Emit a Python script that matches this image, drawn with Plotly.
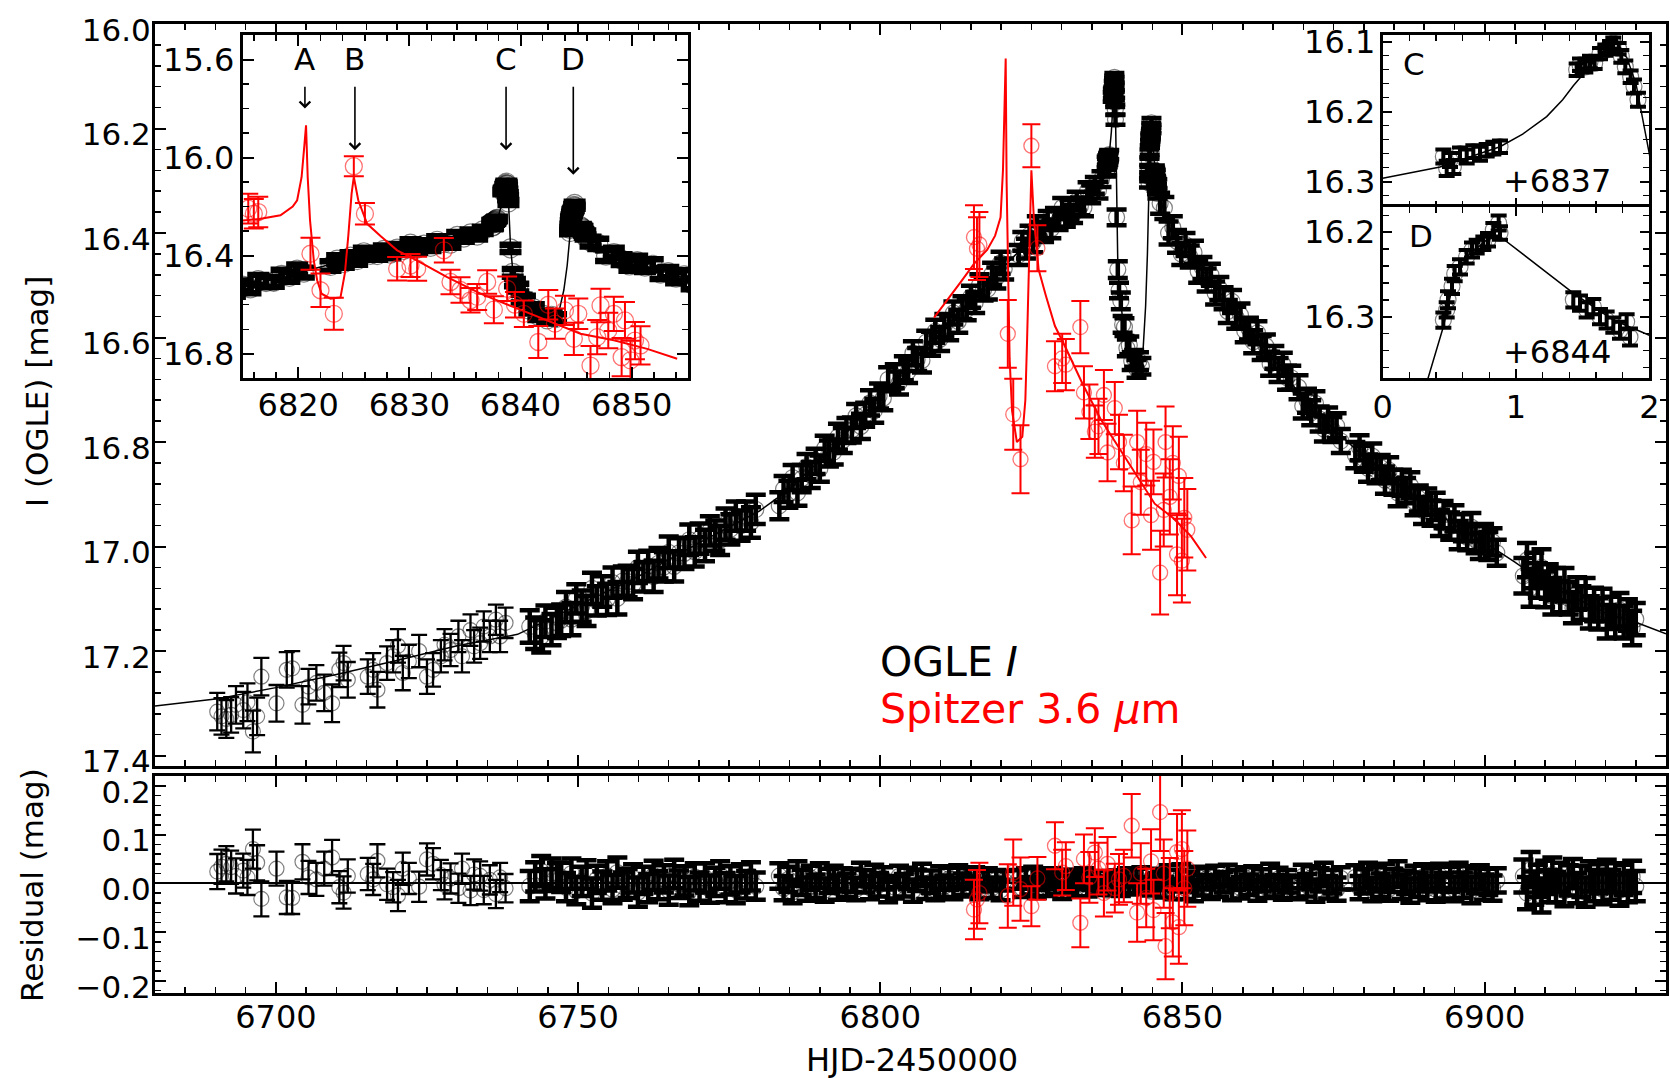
import plotly.graph_objects as go

W, H = 1670, 1078
FONT = "DejaVu Sans"
TICK_SIZE = 32

# ---------------- OGLE I-band photometry (HJD-2450000, mag, error, residual) ----------------
ogle_day_1 = [6690.3, 6691.0, 6691.8, 6692.6, 6693.4, 6694.6, 6695.3, 6696.2, 6696.9, 6697.6]
ogle_mag_1 = [17.316, 17.325, 17.330, 17.322, 17.303, 17.313, 17.298, 17.354, 17.325, 17.249]
ogle_err_1 = [0.036, 0.035, 0.036, 0.034, 0.036, 0.035, 0.036, 0.040, 0.036, 0.036]
ogle_res_1 = [0.024, 0.034, 0.040, 0.033, 0.015, 0.026, 0.012, 0.070, 0.042, -0.032]

ogle_day_2 = [6700.1, 6701.8, 6702.7, 6704.4, 6705.4, 6706.7, 6708.0, 6709.3, 6710.5, 6711.2, 6711.9]
ogle_mag_2 = [17.300, 17.236, 17.233, 17.303, 17.268, 17.261, 17.280, 17.300, 17.236, 17.223, 17.255]
ogle_err_2 = [0.035, 0.034, 0.033, 0.036, 0.034, 0.034, 0.035, 0.036, 0.033, 0.033, 0.034]
ogle_res_2 = [0.030, -0.029, -0.030, 0.044, 0.012, 0.008, 0.030, 0.053, -0.008, -0.019, 0.015]

ogle_day_3 = [6715.2, 6716.1, 6716.8, 6718.4, 6719.4, 6720.2, 6721.0, 6722.0, 6723.7, 6725.0, 6726.0, 6727.3,
              6727.9, 6728.9, 6730.2, 6730.8, 6732.2, 6732.8, 6733.8, 6734.4, 6735.4, 6736.4, 6737.1, 6738.0]
ogle_mag_3 = [17.249, 17.236, 17.274, 17.223, 17.210, 17.190, 17.242, 17.220, 17.200, 17.249, 17.236, 17.210,
              17.188, 17.198, 17.172, 17.210, 17.160, 17.191, 17.185, 17.153, 17.172, 17.140, 17.172, 17.146]
ogle_err_3 = [0.033, 0.032, 0.034, 0.032, 0.031, 0.032, 0.033, 0.032, 0.031, 0.033, 0.032, 0.031,
              0.030, 0.031, 0.030, 0.031, 0.030, 0.031, 0.030, 0.029, 0.030, 0.029, 0.030, 0.029]
ogle_res_3 = [0.019, 0.008, 0.046, -0.002, -0.008, -0.025, 0.030, 0.010, -0.007, 0.049, 0.040, 0.017,
              -0.003, 0.010, -0.010, 0.030, -0.015, 0.018, 0.015, -0.014, 0.007, -0.022, 0.012, -0.010]

ogle_day_4 = [6742.0, 6742.9, 6743.9, 6744.6, 6745.6, 6746.5,
              6747.2, 6748.0, 6748.9, 6749.7, 6750.6, 6751.4, 6752.3, 6753.1, 6754.0, 6754.8,
              6755.7, 6756.5, 6757.4, 6758.2, 6759.1, 6759.9, 6760.8, 6761.6, 6762.5, 6763.3,
              6764.2, 6765.0, 6765.9, 6766.7, 6767.6, 6768.4, 6769.3, 6770.1, 6771.0, 6771.8,
              6772.7, 6773.5, 6774.4, 6775.2, 6776.1, 6776.9, 6777.8, 6778.6, 6779.4]
ogle_mag_4 = [17.153, 17.166, 17.172, 17.143, 17.159, 17.146,
              17.141, 17.116, 17.139, 17.100, 17.114, 17.123, 17.080, 17.104, 17.086, 17.101,
              17.069, 17.099, 17.066, 17.067, 17.072, 17.040, 17.058, 17.037, 17.057, 17.032,
              17.039, 17.011, 17.038, 17.012, 17.013, 16.987, 17.010, 16.985, 16.998, 16.970,
              16.979, 16.988, 16.957, 16.967, 16.942, 16.960, 16.942, 16.954, 16.929]
ogle_err_4 = [0.031, 0.030, 0.031, 0.030, 0.030, 0.029,
              0.030, 0.029, 0.031, 0.028, 0.030, 0.029, 0.030, 0.028, 0.029, 0.030,
              0.029, 0.031, 0.028, 0.030, 0.029, 0.030, 0.028, 0.029, 0.030, 0.029,
              0.028, 0.030, 0.029, 0.028, 0.030, 0.029, 0.028, 0.029, 0.030, 0.028,
              0.029, 0.028, 0.030, 0.029, 0.028, 0.029, 0.028, 0.029, 0.028]
ogle_res_4 = [-0.006, 0.013, 0.025, -0.001, 0.021, 0.013,
              0.012, -0.008, 0.020, -0.015, 0.004, 0.018, -0.020, 0.008, -0.005, 0.015,
              -0.012, 0.022, -0.006, 0.000, 0.010, -0.018, 0.006, -0.010, 0.016, -0.004,
              0.009, -0.014, 0.019, -0.002, 0.005, -0.016, 0.013, -0.007, 0.011, -0.012,
              0.003, 0.017, -0.009, 0.006, -0.013, 0.010, -0.003, 0.014, -0.006]

ogle_day_5 = [6783.3, 6784.0, 6784.8, 6785.5, 6786.3, 6787.0, 6787.8, 6788.5, 6789.3, 6790.0, 6790.8,
              6791.5, 6792.3, 6793.0, 6793.8, 6794.4,
              6795.3, 6796.0, 6796.8, 6797.5, 6798.3, 6799.0, 6799.8, 6800.5, 6801.3]
ogle_mag_5 = [16.922, 16.890, 16.900, 16.868, 16.897, 16.870, 16.847, 16.863, 16.837, 16.851, 16.812,
              16.822, 16.819, 16.790, 16.797, 16.778,
              16.777, 16.750, 16.770, 16.748, 16.725, 16.740, 16.712, 16.716, 16.680]
ogle_err_5 = [0.026, 0.025, 0.026, 0.024, 0.025, 0.026, 0.024, 0.025, 0.024, 0.025, 0.024,
              0.025, 0.024, 0.025, 0.024, 0.024,
              0.024, 0.023, 0.024, 0.023, 0.024, 0.023, 0.024, 0.023, 0.023]
ogle_res_5 = [0.015, -0.010, 0.008, -0.017, 0.020, 0.002, -0.012, 0.011, -0.006, 0.016, -0.014,
              0.005, 0.012, -0.009, 0.007, -0.004,
              0.006, -0.012, 0.018, 0.004, -0.009, 0.015, -0.003, 0.010, -0.016]

ogle_day_6 = [6802.4, 6803.1, 6803.9, 6804.6, 6805.4, 6806.1, 6806.9, 6807.6, 6808.4, 6809.1, 6809.9,
              6810.6, 6811.4, 6812.1, 6812.9, 6813.6,
              6814.3, 6815.0, 6815.7, 6816.4, 6817.1, 6817.8, 6818.5, 6819.2, 6819.9, 6820.5]
ogle_mag_6 = [16.674, 16.687, 16.659, 16.665, 16.630, 16.642, 16.644, 16.609, 16.612, 16.588, 16.603,
              16.577, 16.582, 16.553, 16.569, 16.543,
              16.546, 16.522, 16.533, 16.500, 16.508, 16.507, 16.478, 16.486, 16.457, 16.469]
ogle_err_6 = [0.023, 0.022, 0.023, 0.022, 0.023, 0.022, 0.023, 0.022, 0.023, 0.022, 0.023,
              0.022, 0.023, 0.022, 0.022, 0.022,
              0.021, 0.021, 0.020, 0.021, 0.021, 0.020, 0.021, 0.020, 0.021, 0.020]
ogle_res_6 = [-0.008, 0.014, -0.004, 0.010, -0.015, 0.006, 0.017, -0.010, 0.003, -0.013, 0.012,
              -0.006, 0.009, -0.011, 0.015, -0.002,
              0.010, -0.006, 0.013, -0.012, 0.004, 0.011, -0.009, 0.007, -0.014, 0.005]

ogle_day_7 = [6822.9, 6823.5, 6824.1, 6824.7, 6825.3, 6825.9, 6826.5, 6827.1, 6827.7, 6828.3, 6828.9, 6829.5,
              6830.1, 6830.7, 6831.3, 6831.9, 6832.5, 6833.1, 6833.7, 6834.3, 6834.9, 6835.5, 6836.1, 6836.6]
ogle_mag_7 = [16.442, 16.416, 16.430, 16.404, 16.418, 16.386, 16.397, 16.398, 16.376, 16.392, 16.371, 16.376,
              16.351, 16.371, 16.355, 16.364, 16.339, 16.349, 16.351, 16.319, 16.326, 16.309, 16.318, 16.297]
ogle_err_7 = [0.019, 0.018, 0.019, 0.018, 0.019, 0.018, 0.018, 0.019, 0.018, 0.018, 0.019, 0.018,
              0.018, 0.017, 0.018, 0.017, 0.018, 0.017, 0.017, 0.016, 0.017, 0.016, 0.016, 0.015]
ogle_res_7 = [0.008, -0.010, 0.012, -0.005, 0.015, -0.012, 0.004, 0.009, -0.008, 0.013, -0.003, 0.006,
              -0.014, 0.010, -0.002, 0.011, -0.009, 0.005, 0.014, -0.011, 0.003, -0.007, 0.009, -0.004]

# caustic C (high cadence)
ogle_day_c = [6837.455, 6837.48, 6837.505, 6837.53, 6837.58, 6837.63, 6837.68, 6837.73, 6837.78, 6837.83,
              6837.88, 6838.455, 6838.48, 6838.52, 6838.555, 6838.59, 6838.63, 6838.67, 6838.705, 6838.73,
              6838.77, 6838.79, 6838.82, 6838.86, 6838.885, 6838.915]
ogle_mag_c = [16.264, 16.281, 16.269, 16.279, 16.260, 16.264, 16.257, 16.260, 16.255, 16.252,
              16.250, 16.140, 16.133, 16.136, 16.129, 16.131, 16.117, 16.112, 16.107, 16.102,
              16.110, 16.121, 16.136, 16.150, 16.164, 16.183]
ogle_err_c = [0.010, 0.011, 0.010, 0.010, 0.009, 0.010, 0.009, 0.010, 0.009, 0.009,
              0.009, 0.009, 0.009, 0.008, 0.009, 0.008, 0.008, 0.008, 0.008, 0.008,
              0.008, 0.009, 0.009, 0.009, 0.010, 0.010]
ogle_res_c = [-0.014, 0.004, -0.007, 0.004, -0.012, -0.005, -0.009, -0.002, -0.004, -0.003,
              0.000, -0.005, -0.008, 0.002, 0.001, 0.009, 0.000, 0.001, -0.003, -0.008,
              -0.003, 0.005, 0.013, 0.010, 0.007, 0.008]

# between C and D
ogle_day_t = [6839.1, 6839.3, 6839.5, 6839.8, 6840.1, 6840.4, 6840.8, 6841.2, 6841.6, 6842.0, 6842.4, 6842.8, 6843.2]
ogle_mag_t = [16.370, 16.470, 16.510, 16.530, 16.575, 16.580, 16.620, 16.615, 16.645, 16.640, 16.660, 16.645, 16.655]
ogle_err_t = [0.015, 0.016, 0.015, 0.016, 0.016, 0.017, 0.016, 0.017, 0.017, 0.016, 0.017, 0.017, 0.016]
ogle_res_t = [0.010, 0.010, 0.010, -0.010, 0.010, -0.004, 0.015, -0.006, 0.012, -0.005, 0.013, -0.004, 0.017]

# caustic D (high cadence)
ogle_day_d = [6844.455, 6844.48, 6844.49, 6844.52, 6844.54, 6844.58, 6844.63, 6844.67, 6844.705, 6844.755,
              6844.79, 6844.83, 6844.87, 6844.88, 6845.43, 6845.48, 6845.53, 6845.58, 6845.63, 6845.68,
              6845.73, 6845.78, 6845.83, 6845.855]
ogle_mag_d = [16.304, 16.292, 16.280, 16.264, 16.249, 16.241, 16.229, 16.221, 16.217, 16.213,
              16.209, 16.197, 16.189, 16.201, 16.280, 16.284, 16.292, 16.288, 16.300, 16.304,
              16.310, 16.316, 16.306, 16.324]
ogle_err_d = [0.009, 0.009, 0.010, 0.009, 0.009, 0.009, 0.008, 0.009, 0.008, 0.008,
              0.008, 0.008, 0.009, 0.008, 0.009, 0.009, 0.009, 0.009, 0.009, 0.010,
              0.009, 0.010, 0.009, 0.010]
ogle_res_d = [-0.008, -0.003, -0.008, -0.003, -0.008, -0.004, 0.000, -0.003, -0.002, 0.001,
              0.000, -0.010, -0.016, -0.004, 0.008, 0.007, 0.009, 0.000, 0.007, 0.005,
              0.006, 0.008, -0.005, 0.011]

ogle_day_8 = [6846.3, 6847.0, 6847.7, 6848.4, 6849.1, 6849.8, 6850.5, 6851.2, 6851.9, 6852.6, 6853.3,
              6854.0, 6854.7, 6855.4, 6856.1, 6856.8, 6857.5, 6858.2, 6858.9, 6859.6, 6860.3, 6861.0,
              6861.7, 6862.4, 6863.1, 6863.8, 6864.5, 6865.2, 6865.9, 6866.6, 6867.3, 6868.0]
ogle_mag_8 = [16.343, 16.352, 16.400, 16.389, 16.416, 16.440, 16.422, 16.445, 16.437, 16.473, 16.467,
              16.490, 16.480, 16.515, 16.506, 16.525, 16.550, 16.531, 16.562, 16.557, 16.587, 16.583,
              16.608, 16.591, 16.620, 16.616, 16.650, 16.638, 16.662, 16.651, 16.677, 16.677]
ogle_err_8 = [0.020, 0.021, 0.022, 0.021, 0.022, 0.021, 0.022, 0.021, 0.022, 0.022, 0.021,
              0.022, 0.021, 0.022, 0.022, 0.021, 0.022, 0.022, 0.021, 0.022, 0.022, 0.021,
              0.022, 0.022, 0.023, 0.022, 0.023, 0.022, 0.023, 0.022, 0.023, 0.023]
ogle_res_8 = [0.010, -0.008, 0.015, -0.012, 0.005, 0.018, -0.010, 0.003, -0.015, 0.012, -0.004,
              0.009, -0.011, 0.014, -0.006, 0.002, 0.016, -0.013, 0.007, -0.009, 0.011, -0.003,
              0.013, -0.014, 0.006, -0.008, 0.017, -0.005, 0.009, -0.012, 0.004, -0.007]

ogle_day_9 = [6869.2, 6869.9, 6870.6, 6871.3, 6872.0, 6872.7, 6873.4, 6874.1, 6874.8, 6875.5, 6876.2,
              6878.6, 6879.3, 6880.0, 6880.7, 6881.4, 6882.1, 6882.8, 6883.5, 6884.2, 6884.9, 6885.6,
              6886.3, 6887.0, 6887.7, 6888.4, 6889.1, 6889.8, 6890.5, 6891.2, 6891.9, 6892.6, 6893.2]
ogle_mag_9 = [16.695, 16.731, 16.721, 16.744, 16.726, 16.756, 16.775, 16.757, 16.776, 16.769, 16.798,
              16.825, 16.811, 16.832, 16.850, 16.827, 16.854, 16.849, 16.873, 16.854, 16.877, 16.897,
              16.878, 16.893, 16.883, 16.914, 16.908, 16.931, 16.914, 16.936, 16.923, 16.955, 16.939]
ogle_err_9 = [0.023, 0.024, 0.023, 0.024, 0.023, 0.024, 0.024, 0.023, 0.024, 0.024, 0.023,
              0.025, 0.024, 0.025, 0.026, 0.024, 0.025, 0.024, 0.026, 0.025, 0.024, 0.026,
              0.025, 0.024, 0.025, 0.026, 0.025, 0.026, 0.025, 0.024, 0.026, 0.025, 0.026]
ogle_res_9 = [-0.010, 0.014, -0.004, 0.011, -0.015, 0.007, 0.018, -0.008, 0.003, -0.012, 0.010,
              0.012, -0.009, 0.004, 0.016, -0.013, 0.008, -0.004, 0.014, -0.011, 0.006, 0.019,
              -0.007, 0.002, -0.015, 0.010, -0.003, 0.013, -0.010, 0.007, -0.012, 0.015, -0.005]

ogle_day_10 = [6894.3, 6895.0, 6895.7, 6896.4, 6897.1, 6897.8, 6898.5, 6899.2, 6899.9, 6900.6, 6901.3, 6902.0,
               6906.4, 6907.0, 6907.6, 6908.2, 6908.8, 6909.4, 6910.0, 6910.6, 6911.2]
ogle_mag_10 = [16.961, 16.946, 16.978, 16.964, 16.982, 16.963, 16.987, 16.999, 16.983, 16.999, 16.991, 17.012,
               17.056, 17.026, 17.079, 17.046, 17.065, 17.040, 17.082, 17.067, 17.095]
ogle_err_10 = [0.026, 0.025, 0.027, 0.026, 0.025, 0.027, 0.026, 0.025, 0.026, 0.027, 0.026, 0.025,
               0.034, 0.033, 0.036, 0.034, 0.033, 0.035, 0.034, 0.033, 0.035]
ogle_res_10 = [0.008, -0.012, 0.015, -0.004, 0.010, -0.014, 0.005, 0.012, -0.008, 0.003, -0.010, 0.006,
               0.015, -0.020, 0.028, -0.010, 0.005, -0.025, 0.012, -0.006, 0.018]

ogle_day_11 = [6911.8, 6912.5, 6913.2, 6913.9, 6914.6, 6915.3, 6916.0, 6916.7, 6917.4, 6918.1,
               6918.8, 6919.5, 6920.2, 6920.9, 6921.6, 6922.3, 6923.0, 6923.7, 6924.4, 6925.0]
ogle_mag_11 = [17.072, 17.096, 17.073, 17.099, 17.117, 17.090, 17.108, 17.090, 17.126, 17.111,
               17.129, 17.112, 17.144, 17.127, 17.144, 17.121, 17.145, 17.131, 17.156, 17.139]
ogle_err_11 = [0.031, 0.030, 0.032, 0.031, 0.030, 0.031, 0.032, 0.030, 0.031, 0.032,
               0.030, 0.031, 0.032, 0.031, 0.030, 0.032, 0.031, 0.030, 0.033, 0.031]
ogle_res_11 = [-0.008, 0.012, -0.015, 0.006, 0.020, -0.010, 0.004, -0.018, 0.014, -0.005,
               0.009, -0.012, 0.016, -0.003, 0.011, -0.014, 0.007, -0.009, 0.013, -0.006]

# ---------------- best-fit model light curve (OGLE I) ----------------
model_day = [6680, 6690, 6700, 6710, 6720, 6730, 6740, 6750, 6760, 6770, 6780, 6785, 6790, 6795, 6800,
             6805, 6810, 6815, 6820, 6822.5, 6825, 6830, 6833, 6835, 6836, 6837.0, 6837.43, 6837.88,
             6838.05, 6838.23, 6838.35, 6838.43, 6838.53, 6838.6, 6838.68, 6838.76, 6838.83, 6838.9,
             6838.98, 6839.1, 6839.3, 6839.5, 6839.8, 6840.1, 6840.5, 6841.0, 6842.0, 6843.0, 6843.5,
             6843.9, 6844.2, 6844.34, 6844.455, 6844.53, 6844.63, 6844.78, 6844.88, 6845.43, 6845.73,
             6846.0, 6847.0, 6848.0, 6850, 6855, 6860, 6865, 6870, 6875, 6880, 6885, 6890, 6895, 6900,
             6905, 6910, 6915, 6920, 6925, 6930]
model_mag = [17.305, 17.292, 17.270, 17.245, 17.218, 17.190, 17.168, 17.113, 17.057, 16.993, 16.932, 16.890,
             16.835, 16.775, 16.712, 16.650, 16.590, 16.528, 16.470, 16.440, 16.405, 16.366, 16.344, 16.322,
             16.310, 16.295, 16.279, 16.250, 16.232, 16.207, 16.183, 16.163, 16.140, 16.125, 16.113,
             16.112, 16.122, 16.160, 16.240, 16.360, 16.460, 16.500, 16.540, 16.565, 16.590, 16.615,
             16.645, 16.650, 16.620, 16.540, 16.440, 16.373, 16.312, 16.260, 16.229, 16.209, 16.205,
             16.272, 16.304, 16.322, 16.360, 16.395, 16.425, 16.495, 16.572, 16.640, 16.718, 16.775,
             16.828, 16.872, 16.920, 16.958, 16.992, 17.030, 17.070, 17.098, 17.127, 17.145, 17.167]

# ---------------- Spitzer 3.6 micron ----------------
sp_day = [6815.5, 6816.0, 6816.4, 6821.1, 6822.0, 6823.2, 6825.0, 6826.0, 6828.9, 6830.1, 6830.7, 6833.1,
          6833.7, 6834.6, 6835.5, 6836.1, 6837.0, 6837.6, 6838.8, 6839.5, 6840.3, 6841.6, 6842.5, 6843.1,
          6844.0, 6844.8, 6845.2, 6846.3, 6846.9, 6847.2, 6847.9, 6848.4, 6849.1, 6849.4, 6849.9, 6850.3,
          6850.8]
sp_mag_main = [16.408, 16.430, 16.422, 16.593, 16.747, 16.833, 16.233, 16.429, 16.655, 16.640, 16.652, 16.580,
               16.705, 16.742, 16.780, 16.770, 16.710, 16.820, 16.735, 16.800, 16.840, 16.950, 16.800, 16.877,
               16.823, 16.940, 16.838, 17.050, 16.930, 16.800, 16.905, 16.840, 17.015, 16.865, 17.027, 16.945,
               16.968]
sp_mag_inset = [16.208, 16.229, 16.222, 16.392, 16.541, 16.637, 16.035, 16.229, 16.453, 16.440, 16.453, 16.378,
                16.507, 16.540, 16.582, 16.568, 16.507, 16.620, 16.535, 16.600, 16.637, 16.752, 16.600, 16.677,
                16.623, 16.739, 16.637, 16.848, 16.732, 16.603, 16.705, 16.637, 16.814, 16.664, 16.827, 16.746,
                16.766]
sp_err = [0.061, 0.060, 0.062, 0.065, 0.068, 0.065, 0.041, 0.044, 0.048, 0.047, 0.049, 0.050,
          0.050, 0.052, 0.050, 0.053, 0.048, 0.055, 0.050, 0.052, 0.054, 0.065, 0.060, 0.062,
          0.060, 0.066, 0.062, 0.080, 0.070, 0.068, 0.072, 0.070, 0.078, 0.075, 0.080, 0.076,
          0.078]
sp_res = [-0.054, -0.033, -0.020, -0.026, 0.022, -0.012, -0.047, 0.010, 0.077, 0.022, 0.035, -0.081,
          0.050, 0.012, 0.063, 0.030, -0.020, 0.040, -0.010, 0.008, 0.015, 0.118, -0.060, 0.020,
          -0.030, 0.045, -0.055, 0.146, 0.020, -0.129, -0.020, -0.080, 0.064, -0.090, 0.070, -0.010,
          0.030]

sp_model_day = [6808.9, 6811.0, 6813.3, 6815.5, 6817.7, 6819.0, 6819.9, 6820.3, 6820.55, 6820.75, 6820.9,
                6821.1, 6821.4, 6821.8, 6822.6, 6823.5, 6824.0, 6824.3, 6824.6, 6825.0, 6825.4, 6826.2,
                6827.4, 6828.9, 6830.7, 6833.4, 6836.4, 6839.4, 6842.4, 6845.4, 6848.4, 6851.4, 6853.9]
sp_model_mag = [16.562, 16.530, 16.494, 16.459, 16.432, 16.405, 16.370, 16.280, 16.150, 16.066, 16.300,
                16.460, 16.640, 16.740, 16.800, 16.790, 16.720, 16.600, 16.450, 16.280, 16.370, 16.470,
                16.520, 16.578, 16.620, 16.687, 16.755, 16.810, 16.864, 16.918, 16.945, 16.980, 17.022]

sp_inset_model_day = [6815.0, 6816.5, 6818.4, 6819.5, 6819.9, 6820.3, 6820.55, 6820.7, 6820.85, 6821.06,
                      6821.4, 6821.7, 6822.1, 6822.9, 6823.8, 6824.2, 6824.5, 6824.8, 6825.0, 6825.4,
                      6826.2, 6827.4, 6828.9, 6830.7, 6833.4, 6836.4, 6839.4, 6842.4, 6845.4, 6848.4,
                      6851.4, 6854.1]
sp_inset_model_mag = [16.256, 16.250, 16.235, 16.200, 16.174, 16.080, 15.950, 15.868, 16.080, 16.256,
                      16.420, 16.500, 16.555, 16.575, 16.570, 16.470, 16.320, 16.147, 16.079, 16.174,
                      16.270, 16.320, 16.378, 16.420, 16.487, 16.555, 16.610, 16.664, 16.718, 16.745,
                      16.780, 16.820]


# ---------------- assemble OGLE series ----------------
def collect(groups):
    d, m, e, r = [], [], [], []
    for gd, gm, ge, gr in groups:
        n = min(len(gd), len(gm), len(ge), len(gr))
        d += gd[:n]; m += gm[:n]; e += ge[:n]; r += gr[:n]
    return d, m, e, r


sparse = collect([(ogle_day_1, ogle_mag_1, ogle_err_1, ogle_res_1),
                  (ogle_day_2, ogle_mag_2, ogle_err_2, ogle_res_2),
                  (ogle_day_3, ogle_mag_3, ogle_err_3, ogle_res_3)])
dense = collect([(ogle_day_4, ogle_mag_4, ogle_err_4, ogle_res_4),
                 (ogle_day_5, ogle_mag_5, ogle_err_5, ogle_res_5),
                 (ogle_day_6, ogle_mag_6, ogle_err_6, ogle_res_6),
                 (ogle_day_7, ogle_mag_7, ogle_err_7, ogle_res_7),
                 (ogle_day_t, ogle_mag_t, ogle_err_t, ogle_res_t),
                 (ogle_day_8, ogle_mag_8, ogle_err_8, ogle_res_8),
                 (ogle_day_9, ogle_mag_9, ogle_err_9, ogle_res_9),
                 (ogle_day_10, ogle_mag_10, ogle_err_10, ogle_res_10),
                 (ogle_day_11, ogle_mag_11, ogle_err_11, ogle_res_11)])
peaks = collect([(ogle_day_c, ogle_mag_c, ogle_err_c, ogle_res_c),
                 (ogle_day_d, ogle_mag_d, ogle_err_d, ogle_res_d)])

n_sp = min(len(sp_day), len(sp_mag_main), len(sp_mag_inset), len(sp_err), len(sp_res))
sp_day, sp_mag_main, sp_mag_inset = sp_day[:n_sp], sp_mag_main[:n_sp], sp_mag_inset[:n_sp]
sp_err, sp_res = sp_err[:n_sp], sp_res[:n_sp]

BLACK_MK = "rgba(0,0,0,0.5)"
RED_MK = "rgba(255,0,0,0.55)"
RED = "#ff0000"


def ogle_pts(x, y, e, xa, ya, cap=8, size=15, thick=2.0):
    return go.Scatter(x=x, y=y, mode="markers", xaxis=xa, yaxis=ya, showlegend=False, hoverinfo="skip",
                      marker=dict(symbol="circle-open", size=size, color=BLACK_MK,
                                  line=dict(width=1.2, color=BLACK_MK)),
                      error_y=dict(type="data", array=e, visible=True, color="black", thickness=thick, width=cap))


def sp_pts(x, y, e, xa, ya, cap=9, size=15):
    return go.Scatter(x=x, y=y, mode="markers", xaxis=xa, yaxis=ya, showlegend=False, hoverinfo="skip",
                      marker=dict(symbol="circle-open", size=size, color=RED_MK,
                                  line=dict(width=1.3, color=RED_MK)),
                      error_y=dict(type="data", array=e, visible=True, color=RED, thickness=2, width=cap))


def line(x, y, xa, ya, color, width):
    return go.Scatter(x=x, y=y, mode="lines", xaxis=xa, yaxis=ya, showlegend=False, hoverinfo="skip",
                      line=dict(color=color, width=width))


def shift(days, t0):
    return [d - t0 for d in days]


fig = go.Figure()
# main panel
fig.add_trace(ogle_pts(sparse[0], sparse[1], sparse[2], "x", "y", thick=2.3))
fig.add_trace(ogle_pts(dense[0], dense[1], dense[2], "x", "y", cap=10, size=16, thick=4.5))
fig.add_trace(ogle_pts(peaks[0], peaks[1], peaks[2], "x", "y", cap=10, size=16, thick=4.5))
fig.add_trace(line(model_day, model_mag, "x", "y", "black", 1.5))
fig.add_trace(sp_pts(sp_day, sp_mag_main, sp_err, "x", "y"))
fig.add_trace(line(sp_model_day, sp_model_mag, "x", "y", RED, 2))
# residual panel
fig.add_trace(ogle_pts(sparse[0], sparse[3], sparse[2], "x2", "y2", thick=2.3))
fig.add_trace(ogle_pts(dense[0], dense[3], dense[2], "x2", "y2", cap=10, size=16, thick=4.5))
fig.add_trace(ogle_pts(peaks[0], peaks[3], peaks[2], "x2", "y2", cap=10, size=16, thick=4.5))
fig.add_trace(sp_pts(sp_day, sp_res, sp_err, "x2", "y2"))
# left inset
fig.add_trace(ogle_pts(dense[0], dense[1], dense[2], "x3", "y3", cap=11, size=19, thick=6.5))
fig.add_trace(ogle_pts(peaks[0], peaks[1], peaks[2], "x3", "y3", cap=11, size=19, thick=6.5))
fig.add_trace(line(model_day, model_mag, "x3", "y3", "black", 1.5))
fig.add_trace(sp_pts(sp_day, sp_mag_inset, sp_err, "x3", "y3", cap=10, size=17))
fig.add_trace(line(sp_inset_model_day, sp_inset_model_mag, "x3", "y3", RED, 2))
# insets C / D
fig.add_trace(ogle_pts(shift(peaks[0], 6837), peaks[1], peaks[2], "x4", "y4", cap=8, size=16, thick=4))
fig.add_trace(line(shift(model_day, 6837), model_mag, "x4", "y4", "black", 1.5))
fig.add_trace(ogle_pts(shift(peaks[0], 6844), peaks[1], peaks[2], "x5", "y5", cap=8, size=16, thick=4))
fig.add_trace(line(shift(model_day, 6844), model_mag, "x5", "y5", "black", 1.5))


def axis(minor_dtick=None, **kw):
    d = dict(showline=True, linecolor="black", linewidth=3, mirror="allticks",
             ticks="inside", ticklen=11, tickwidth=2, tickcolor="black",
             showgrid=False, zeroline=False, fixedrange=True, automargin=False,
             tickfont=dict(family=FONT, size=TICK_SIZE, color="black"))
    if minor_dtick is not None:
        d["minor"] = dict(dtick=minor_dtick, ticks="inside", ticklen=6, tickwidth=1.5,
                          tickcolor="black", showgrid=False)
    d.update(kw)
    return d


def PX(p):
    return p / W


def PY(p):
    return 1 - p / H


YFONT = dict(family=FONT, size=31, color="black")
main_x = [PX(155), PX(1666)]
fig.update_layout(
    width=W, height=H, margin=dict(l=0, r=0, t=0, b=0, pad=0), autosize=False,
    paper_bgcolor="white", plot_bgcolor="white", showlegend=False,
    font=dict(family=FONT, size=30, color="black"),
    xaxis=axis(5, domain=main_x, range=[6680, 6930], anchor="y", dtick=50, tick0=6700, showticklabels=False),
    yaxis=axis(0.04, domain=[PY(766), PY(24)], range=[17.42, 16.0], anchor="x", dtick=0.2, tick0=16.0,
               tickformat=".1f", ticklabelstandoff=-5, ticklabelshift=-6, tickfont=YFONT),
    xaxis2=axis(5, domain=main_x, range=[6680, 6930], anchor="y2", dtick=50, tick0=6700,
                ticklabelstandoff=-6),
    yaxis2=axis(0.02, domain=[PY(993), PY(776)], range=[-0.225, 0.22], anchor="x2", dtick=0.1, tick0=0,
                tickformat=".1f", ticklabelstandoff=-5, ticklabelshift=6, tickfont=YFONT,
                zeroline=True, zerolinecolor="black", zerolinewidth=2),
    xaxis3=axis(2, domain=[PX(242.7), PX(688.3)], range=[6815, 6855.1], anchor="y3", dtick=10, tick0=6820,
                ticklabelstandoff=-4),
    yaxis3=axis(0.1, domain=[PY(378.3), PY(35)], range=[16.9, 15.5], anchor="x3",
                tickvals=[15.6, 16.0, 16.4, 16.8], ticktext=["15.6", "16.0", "16.4", "16.8"],
                ticklabelstandoff=-1),
    xaxis4=axis(0.2, domain=[PX(1382.7), PX(1649.3)], range=[0, 2], anchor="y4", dtick=1, tick0=0,
                showticklabels=False, ticklen=9),
    yaxis4=axis(0.02, domain=[PY(206.7), PY(35)], range=[16.3357, 16.0904], anchor="x4",
                tickvals=[16.1, 16.2, 16.3], ticktext=["16.1", "16.2", "16.3"], ticklen=9,
                ticklabelstandoff=-2),
    xaxis5=axis(0.2, domain=[PX(1382.7), PX(1649.3)], range=[0, 2], anchor="y5", dtick=1, tick0=0,
                ticklen=9, ticklabelstandoff=-2),
    yaxis5=axis(0.02, domain=[PY(378.3), PY(206.7)], range=[16.373, 16.1697], anchor="x5",
                tickvals=[16.2, 16.3], ticktext=["16.2", "16.3"], ticklen=9, ticklabelstandoff=-2),
)


def label(text, px, py, size=31, color="black", angle=0, xanchor="center"):
    return dict(text=text, x=PX(px), y=PY(py), xref="paper", yref="paper", showarrow=False,
                textangle=angle, font=dict(family=FONT, size=size, color=color),
                xanchor=xanchor, yanchor="middle")


ann = []
# axis titles
ann.append(label("I (OGLE) [mag]", 37, 392, angle=-90))
ann.append(label("Residual (mag)", 32, 885, angle=-90))
ann.append(label("HJD-2450000", 912, 1060, size=32))
# legend-like labels
ann.append(label("OGLE <i>I</i>", 878, 662, size=41, xanchor="left"))
ann.append(label("Spitzer 3.6 <i>μ</i>m", 878, 709, size=41, color=RED, xanchor="left"))
# caustic labels and arrows in the left inset
caustic_lbl = ["A", "B", "C", "D"]
caustic_x = [6820.6, 6825.1, 6838.7, 6844.75]
caustic_tip = [15.80, 15.97, 15.97, 16.07]
for lbl, cx, tip in zip(caustic_lbl, caustic_x, caustic_tip):
    ann.append(dict(text=lbl, x=cx, y=15.597, xref="x3", yref="y3", showarrow=False,
                    font=dict(family=FONT, size=31, color="black"), xanchor="center", yanchor="middle"))
    ann.append(dict(text="", x=cx, y=tip, xref="x3", yref="y3", ax=cx, ay=15.705, axref="x3", ayref="y3",
                    showarrow=True, arrowhead=4, arrowsize=1.3, arrowwidth=1.6, arrowcolor="black"))
# right insets labels
ann.append(label("C", 1414, 64))
ann.append(label("+6837", 1557, 181, size=32))
ann.append(label("D", 1421, 236))
ann.append(label("+6844", 1557, 352, size=32))
fig.update_layout(annotations=ann)

fig.write_html("out.html",
               config={"displayModeBar": False, "staticPlot": True},
               post_script="document.body.style.margin='0px';document.body.style.padding='0px';"
                           "document.body.style.overflow='hidden';")
